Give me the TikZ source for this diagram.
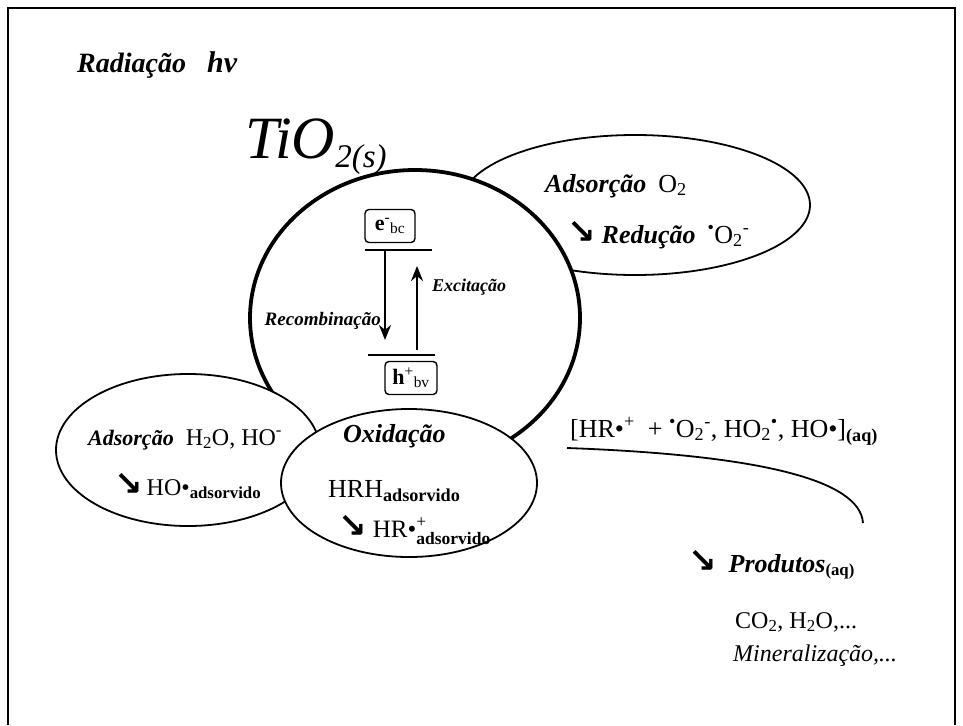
\documentclass[tikz,border=0pt]{standalone}
\usepackage{amsmath}
\usepackage{fontspec}
\setmainfont{Liberation Serif}
\newfontfamily\arrfont{DejaVu Sans}
\usetikzlibrary{shapes.geometric,arrows.meta}
\tikzset{
	bub/.style={draw,ellipse,fill=white,line width=1.8pt,inner sep=0pt},
	lvl/.style={line width=2.6pt},
	lvlbox/.style={draw,rounded corners=4pt,line width=1.4pt,minimum width=50pt,minimum height=33pt,inner sep=0pt},
	jump/.style={line width=2.6pt,-{Stealth[length=15pt,width=12pt]}},
	lbl/.style={anchor=base west,inner sep=0pt,font=\fontsize{24}{28}\selectfont}
}
\newcommand{\bix}{\fontsize{26}{30}\selectfont\bfseries\itshape}
\newcommand{\sedir}{{\arrfont\bfseries\fontsize{34}{34}\selectfont ↘}}
\newcommand{\adsv}{\textsubscript{\textbf{adsorvido}}}
\newcommand{\sbsp}[2]{\ensuremath{_{\text{#1}}^{\text{#2}}}}

\begin{document}
\begin{tikzpicture}[x=1pt,y=-1pt]
\useasboundingbox (0,0) rectangle (963,725);
\draw[line width=2.6pt] (8,725) -- (8,8) -- (955,8) -- (955,725);
% bubbles
\node[bub,minimum width=350pt,minimum height=140pt] (o2bub) at (635,205) {};
\node[bub,line width=3.8pt,minimum width=330pt,minimum height=296pt] (tio) at (415,318) {};
% bands
\node[lvlbox] (ebc) at (390,226) {\fontsize{22}{24}\selectfont\textbf{e}\textsuperscript{-}\textsubscript{bc}};
\node[lvlbox,minimum width=52pt] (hbv) at (411,378) {\fontsize{22}{24}\selectfont\textbf{h}\textsuperscript{+}\textsubscript{bv}};
\coordinate (cbl) at (365,250);
\coordinate (cbr) at (432,250);
\coordinate (vbl) at (368,355);
\coordinate (vbr) at (435,355);
\draw[lvl] (cbl) -- (cbr);
\draw[lvl] (vbl) -- (vbr);
\coordinate (rtop) at (385,251);
\coordinate (rbot) at (385,340);
\coordinate (xbot) at (417,350);
\coordinate (xtop) at (417,266);
\draw[jump] (rtop) -- (rbot);
\draw[jump] (xbot) -- (xtop);
\node[lbl,anchor=base east,font=\fontsize{19}{20}\selectfont\bfseries\itshape] (rec) at (381,325) {Recombinação};
\node[lbl,font=\fontsize{18}{20}\selectfont\bfseries\itshape] (exc) at (432,291) {Excitação};
\node[bub,minimum width=264pt,minimum height=152pt] (h2obub) at (188,450) {};
\node[bub,minimum width=256pt,minimum height=148pt] (oxbub) at (409,483) {};
% texts
\node[lbl,font=\fontsize{28}{30}\selectfont\bfseries\itshape] (rad) at (77,73) {Radiação\ \ \ {\fontsize{30}{30}\selectfont hν}};
\node[lbl,font=\fontsize{60}{62}\selectfont\itshape] (tio2) at (245,158) {TiO\raisebox{-9pt}{\fontsize{33}{33}\selectfont 2(s)}};
\node[lbl] (adso2) at (545,192) {{\bix Adsorção}\ \ {\fontsize{26}{30}\selectfont O\textsubscript{2}}};
\node[lbl] (redo2) at (567,243) {\sedir\ {\bix Redução}\ \ {\fontsize{26}{30}\selectfont\textsuperscript{•}O\textsubscript{2}\textsuperscript{-}}};
\node[lbl,font=\fontsize{24}{26}\selectfont] (adsh2o) at (88,445) {{\fontsize{22}{26}\selectfont\bfseries\itshape Adsorção}\ \ H\textsubscript{2}O, HO\textsuperscript{-}};
\node[lbl] (hoads) at (114,495) {\sedir\,HO•\adsv};
\node[lbl,font=\bix] (oxi) at (343,442) {Oxidação};
\node[lbl,font=\fontsize{26}{30}\selectfont] (hrh) at (328,497) {HRH\adsv};
\node[lbl,font=\fontsize{25}{28}\selectfont] (hrads) at (338,537) {\sedir\ HR•\sbsp{\textbf{adsorvido}}{+}};
\node[lbl,font=\fontsize{26}{28}\selectfont] (rads) at (570,437) {[HR•\textsuperscript{+}\ \ + \textsuperscript{•}O\textsubscript{2}\textsuperscript{-}, HO\textsubscript{2}\textsuperscript{•}, HO•]\textsubscript{\textbf{(aq)}}};
\coordinate (cs) at (567,448);
\coordinate (ce) at (863,523);
\draw[line width=1.8pt] (cs) .. controls (760,455) and (860,480) .. (ce);
\node[lbl] (prod) at (688,572) {\sedir\ \ {\bix Produtos}\textsubscript{\textbf{(aq)}}};
\node[lbl] (co2) at (735,628) {CO\textsubscript{2}, H\textsubscript{2}O,...};
\node[lbl,font=\fontsize{24}{28}\selectfont\itshape] (miner) at (733,661) {Mineralização,...};
\end{tikzpicture}
\end{document}
